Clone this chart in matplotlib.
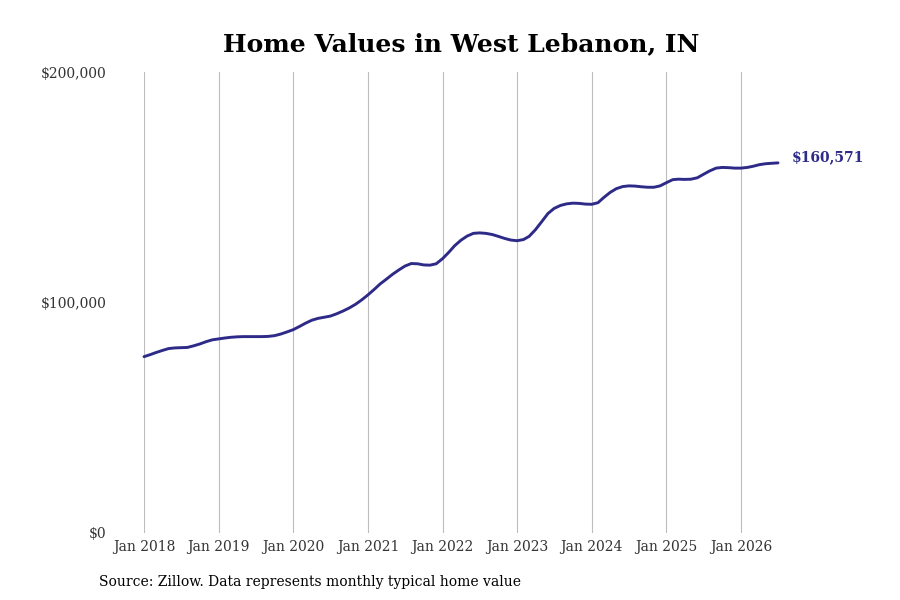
import matplotlib
matplotlib.use("Agg")
import matplotlib.pyplot as plt
import matplotlib.dates as mdates
import pandas as pd

# Monthly typical home values, Jan 2018 .. Jul 2026
values = [
    76.5, 77.4, 78.3, 79.2, 80.0, 80.3, 80.4, 80.5, 81.2, 82.0, 83.0, 83.8,  # 2018
    84.2, 84.6, 84.9, 85.1, 85.2, 85.2, 85.2, 85.2, 85.3, 85.6, 86.3, 87.2,  # 2019
    88.2, 89.6, 91.0, 92.3, 93.1, 93.6, 94.1, 95.1, 96.3, 97.6, 99.2, 101.1,  # 2020
    103.3, 105.7, 108.0, 110.1, 112.2, 114.1, 115.8, 116.9, 116.8, 116.3, 116.2, 116.8,  # 2021
    119.0, 121.8, 124.6, 127.0, 128.8, 130.0, 130.2, 130.0, 129.5, 128.7, 127.8, 127.1,  # 2022
    126.8, 127.3, 128.7, 131.6, 135.0, 138.6, 140.8, 142.1, 142.8, 143.1, 143.0, 142.7,  # 2023
    142.6, 143.3, 145.6, 147.8, 149.4, 150.3, 150.6, 150.5, 150.2, 150.0, 150.0, 150.6,  # 2024
    152.0, 153.3, 153.5, 153.4, 153.5, 154.1, 155.6, 157.1, 158.3, 158.6, 158.5, 158.3,  # 2025
    158.3, 158.6, 159.1, 159.8, 160.2, 160.4, 160.571,  # 2026
]
values = [v * 1000 for v in values]
dates = pd.date_range("2018-01-01", periods=len(values), freq="MS")
tick_years = list(range(2018, 2027))
tick_labels = [f"Jan {y}" for y in tick_years]
y_ticks = [0, 100000, 200000]
y_labels = ["$0", "$100,000", "$200,000"]
end_label = "$160,571"
title = "Home Values in West Lebanon, IN"
source = "Source: Zillow. Data represents monthly typical home value"

line_color = "#2e2a88"
plt.rcParams["font.family"] = ["DejaVu Serif"]

fig = plt.figure(figsize=(9, 6), dpi=100)
W, H = 900, 600
left_px, right_px, top_px, bot_px = 144, 778, 72, 533
ax = fig.add_axes([left_px / W, (H - bot_px) / H, (right_px - left_px) / W, (bot_px - top_px) / H])

ax.plot(dates, values, color=line_color, lw=2.1, clip_on=False, solid_capstyle="round",
        solid_joinstyle="round", zorder=3)
ax.set_xlim(dates[0], dates[-1])
ax.set_ylim(0, 200000)

tick_dates = [pd.Timestamp(f"{y}-01-01") for y in tick_years]
ax.set_xticks(tick_dates)
ax.set_xticklabels(tick_labels, fontsize=10, color="#333333")
ax.set_yticks(y_ticks)
ax.set_yticklabels(y_labels, fontsize=10, color="#333333")
ax.tick_params(axis="x", length=0, pad=5)
ax.tick_params(axis="y", length=0, pad=27)
ax.grid(axis="x", color="#bdbdbd", lw=0.8)
ax.set_axisbelow(True)
for s in ax.spines.values():
    s.set_visible(False)

ax.annotate(end_label, xy=(dates[-1], values[-1]), xytext=(10, 4), textcoords="offset points",
            fontsize=10, fontweight="bold", color=line_color, va="center", ha="left",
            annotation_clip=False)

fig.text(461 / W, 1 - 44 / H, title, ha="center", va="center", fontsize=18, fontweight="bold", color="black")
fig.text(99 / W, 1 - 582 / H, source, ha="left", va="center", fontsize=10, color="black")

fig.savefig("out.png", dpi=100)
